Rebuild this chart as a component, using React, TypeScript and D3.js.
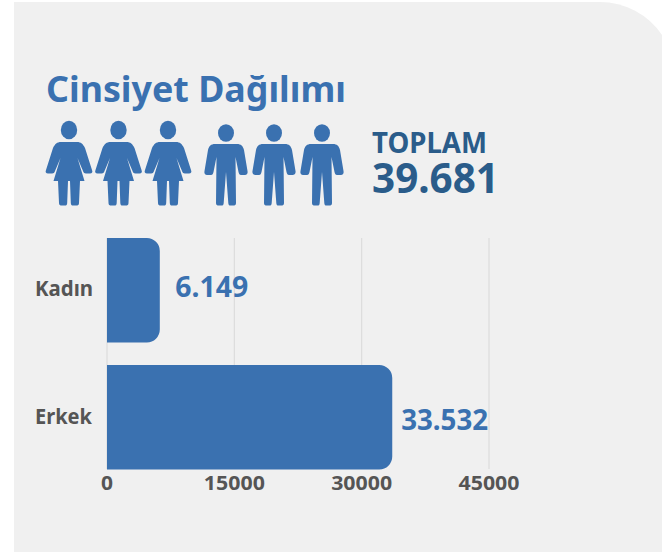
import React from "react";
import * as d3 from "d3";

const categories = ["Kadın", "Erkek"];
const values = [6149, 33532];
const valueLabels = ["6.149", "33.532"];
const ticks = [0, 15000, 30000, 45000];
const title = "Cinsiyet Dağılımı";
const totalLabel = "TOPLAM";
const totalValue = "39.681";
const womenCenters = [69, 118.500, 168];
const menCenters = [226, 274, 322];

const BLUE = "#3a71b0";
const DARK = "#2a5c8a";
const GREY = "#555555";
const FONT = "'Noto Sans', sans-serif";

const x = d3.scaleLinear().domain([0, 45000]).range([107, 489]);
const y = d3.scaleBand().domain(categories).range([238, 469.5]).paddingInner(0.177).paddingOuter(0);

const womanBody =
  "M-8,142 L8,142 C12,142 14,144 16,148 L23,170 C24,172 23,173.500 21,173.500 L17,173.500 C15,173.500 14.500,172.500 14,171 L8.500,158 L15.500,181 L11,181 L10,203 C10,205 9,205.500 7,205.500 L4,205.500 C2.500,205.500 2,205 1.800,203 L1,181 L-1,181 L-1.800,203 C-2,205 -2.500,205.500 -4,205.500 L-7,205.500 C-9,205.500 -10,205 -10,203 L-11,181 L-15.500,181 L-8.500,158 L-14,171 C-14.500,172.500 -15,173.500 -17,173.500 L-21,173.500 C-23,173.500 -24,172 -23,170 L-16,148 C-14,144 -12,142 -8,142 Z";
const manBody =
  "M-11,144 L11,144 C15,144 17,146 18,150 L21.500,171 C22,174 20.500,175 18.500,175 L15,175 C13.500,175 13,174 12.500,172 L9.500,157 L10,203 C10,205 9,205.500 7,205.500 L4.500,205.500 C3,205.500 2.500,205 2.300,203 L0,172 L-2.300,203 C-2.500,205 -3,205.500 -4.500,205.500 L-7,205.500 C-9,205.500 -10,205 -10,203 L-9.500,157 L-12.500,172 C-13,174 -13.500,175 -15,175 L-18.500,175 C-20.500,175 -22,174 -21.500,171 L-18,150 C-17,146 -15,144 -11,144 Z";

function barPath(x0: number, x1: number, y0: number, y1: number, r: number) {
  const p = d3.path();
  p.moveTo(x0, y0);
  p.lineTo(x1 - r, y0);
  p.arcTo(x1, y0, x1, y0 + r, r);
  p.lineTo(x1, y1 - r);
  p.arcTo(x1, y1, x1 - r, y1, r);
  p.lineTo(x0, y1);
  p.closePath();
  return p.toString();
}

export default function App() {
  return (
    <svg
      width={662}
      height={554}
      style={{ position: "absolute", left: 0, top: 0, background: "#fff" }}
      fontFamily={FONT}
    >
      <path d="M14,2 H600 A75,75 0 0 1 662,35 V552 H14 Z" fill="#f0f0f0" />
      <text x={46} y={102} fontSize={36} fontWeight={700} fill={BLUE} textLength={300} lengthAdjust="spacingAndGlyphs">
        {title}
      </text>

      {womenCenters.map((c) => (
        <g key={c} transform={`translate(${c},0)`} fill={BLUE}>
          <ellipse cx={0} cy={130} rx={8.200} ry={9.200} />
          <path d={womanBody} />
        </g>
      ))}
      {menCenters.map((c) => (
        <g key={c} transform={`translate(${c},0)`} fill={BLUE}>
          <ellipse cx={0} cy={133} rx={8} ry={8.800} />
          <path d={manBody} />
        </g>
      ))}

      <text x={372} y={152.500} fontSize={29} fontWeight={700} fill={DARK} textLength={115} lengthAdjust="spacingAndGlyphs">
        {totalLabel}
      </text>
      <text x={372} y={193} fontSize={41} fontWeight={700} fill={DARK} textLength={127} lengthAdjust="spacingAndGlyphs">
        {totalValue}
      </text>

      {ticks.map((t) => (
        <line key={t} x1={x(t)} x2={x(t)} y1={238} y2={469} stroke="#dcdcdc" strokeWidth={1.200} />
      ))}

      {categories.map((c, i) => {
        const y0 = y(c)!;
        const y1 = y0 + y.bandwidth();
        return (
          <g key={c}>
            <path d={barPath(x(0), x(values[i]) + 0.600, y0, y1, 13)} fill={BLUE} />
            <text x={35} y={(y0 + y1) / 2 + (i === 0 ? 6 : 7)} fontSize={20.500} fontWeight={700} fill={GREY}
              textLength={c === "Kadın" ? 58 : 57} lengthAdjust="spacingAndGlyphs">
              {c}
            </text>
            <text x={x(values[i]) + (i === 0 ? 16 : 9.500)} y={(y0 + y1) / 2 + (i === 0 ? 7 : 13)} fontSize={29} fontWeight={700} fill={BLUE}
              textLength={i === 0 ? 73 : 87} lengthAdjust="spacingAndGlyphs">
              {valueLabels[i]}
            </text>
          </g>
        );
      })}

      {ticks.map((t) => (
        <text key={t} x={x(t)} y={490} textAnchor="middle" fontSize={20} fontWeight={700} fill={GREY}
          textLength={t === 0 ? 12 : 61} lengthAdjust="spacingAndGlyphs">
          {t}
        </text>
      ))}
    </svg>
  );
}
